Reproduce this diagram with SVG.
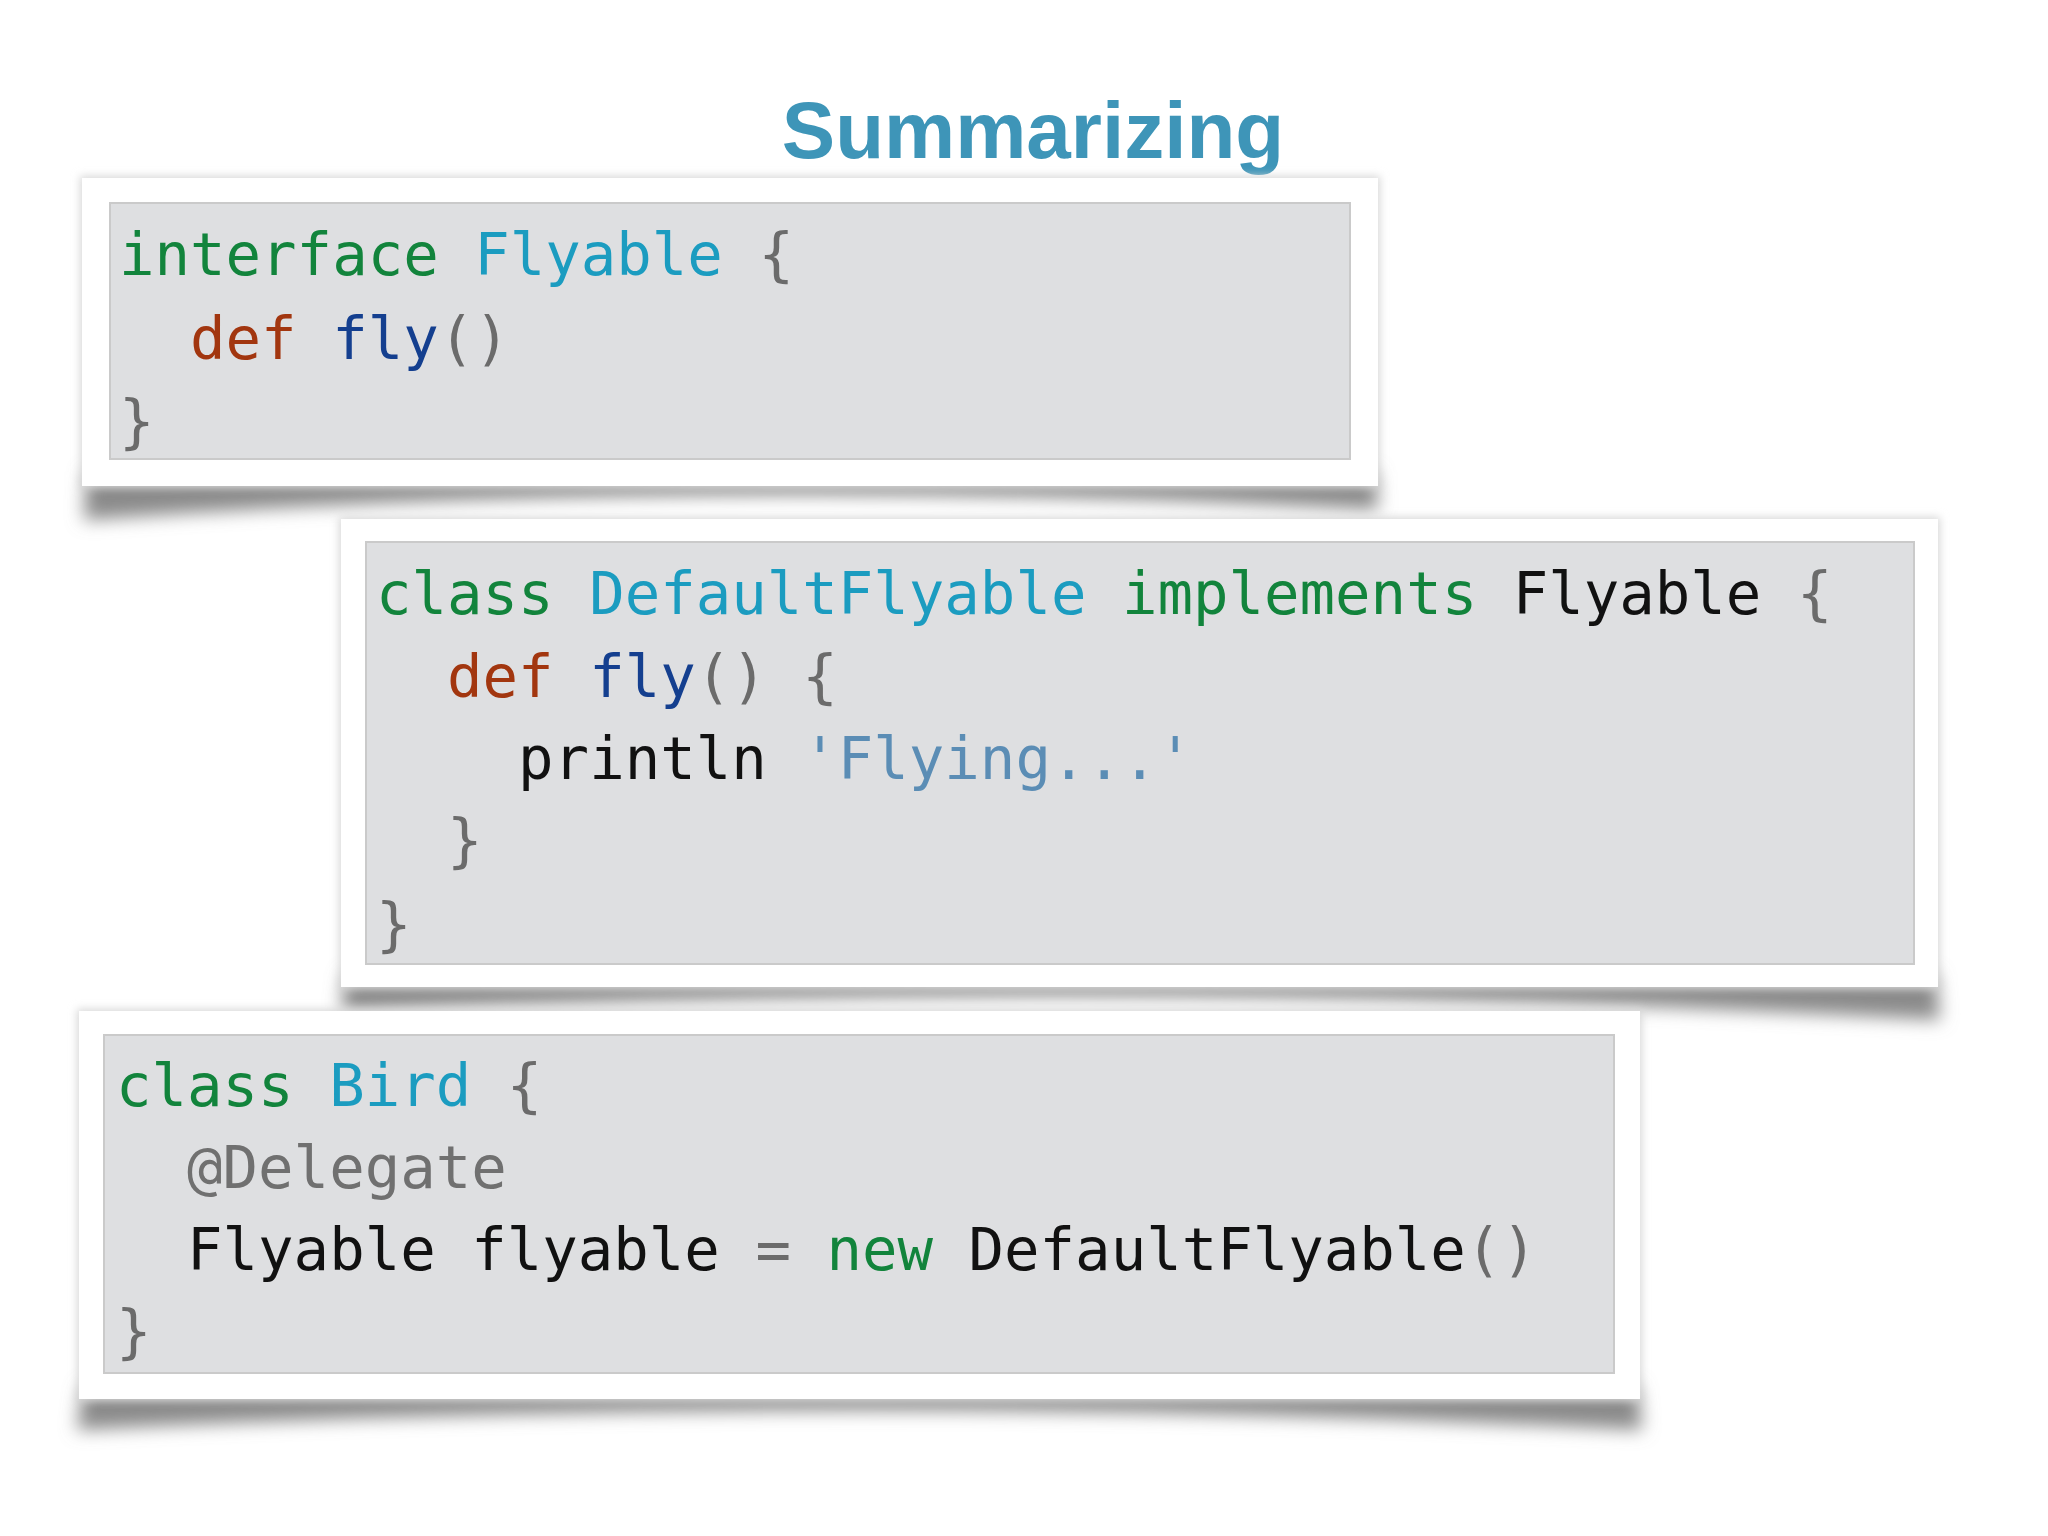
<svg xmlns="http://www.w3.org/2000/svg" width="2048" height="1536" viewBox="0 0 2048 1536">
<defs>
<filter id="blur" x="-10%" y="-80%" width="120%" height="260%"><feGaussianBlur stdDeviation="9"/></filter>
<filter id="soft" x="-5%" y="-5%" width="110%" height="110%"><feGaussianBlur stdDeviation="4"/></filter>
<style>
.card{fill:#fff}
.edge{fill:#d8d8d8;filter:url(#soft)}
.code{fill:#dedfe1;stroke:#cacaca;stroke-width:2}
.shadow{fill:#8a8a8a;filter:url(#blur)}
text.c{font-family:"DejaVu Sans Mono","Liberation Mono",monospace;font-size:59px;fill:#111}
text.c .kw{fill:#12843c}text.c .cls{fill:#1b9cc0}text.c .def{fill:#a2360f}text.c .fn{fill:#143f8f}text.c .br,text.c.br{fill:#6b6b6b}text.c .str{fill:#5b8db5}text.c.ann{fill:#707070}
</style>
</defs>
<rect width="2048" height="1536" fill="#fff"/>
<text x="1033" y="158" text-anchor="middle" font-family="Liberation Sans, Arial, sans-serif" font-weight="bold" font-size="80" fill="#3e95b8">Summarizing</text>

<g id="box1">
<path class="shadow" d="M86 472 L1376 472 L1378 510 Q730 474 84 520 Z"/>
<rect class="edge" x="80" y="176" width="1300" height="312"/>
<rect class="card" x="82" y="178" width="1296" height="308"/>
<rect class="code" x="110" y="203" width="1240" height="256"/>
<text class="c" x="119" y="275"><tspan class="kw">interface</tspan> <tspan class="cls">Flyable</tspan> <tspan class="br">{</tspan></text>
<text class="c" x="119" y="359" xml:space="preserve">  <tspan class="def">def</tspan> <tspan class="fn">fly</tspan><tspan class="br">()</tspan></text>
<text class="c br" x="119" y="442">}</text>
</g>

<g id="box2">
<path class="shadow" d="M345 974 L1936 974 L1940 1020 Q1140 976 341 1012 Z"/>
<rect class="edge" x="339" y="517" width="1601" height="472"/>
<rect class="card" x="341" y="519" width="1597" height="468"/>
<rect class="code" x="366" y="542" width="1548" height="422"/>
<text class="c" x="376" y="614"><tspan class="kw">class</tspan> <tspan class="cls">DefaultFlyable</tspan> <tspan class="kw">implements</tspan> Flyable <tspan class="br">{</tspan></text>
<text class="c" x="376" y="697" xml:space="preserve">  <tspan class="def">def</tspan> <tspan class="fn">fly</tspan><tspan class="br">() {</tspan></text>
<text class="c" x="376" y="779" xml:space="preserve">    println <tspan class="str">'Flying...'</tspan></text>
<text class="c br" x="376" y="861" xml:space="preserve">  }</text>
<text class="c br" x="376" y="945">}</text>
</g>

<g id="box3">
<path class="shadow" d="M83 1386 L1638 1386 L1642 1430 Q860 1390 77 1430 Z"/>
<rect class="edge" x="77" y="1009" width="1565" height="392"/>
<rect class="card" x="79" y="1011" width="1561" height="388"/>
<rect class="code" x="104" y="1035" width="1510" height="338"/>
<text class="c" x="116" y="1106"><tspan class="kw">class</tspan> <tspan class="cls">Bird</tspan> <tspan class="br">{</tspan></text>
<text class="c ann" x="116" y="1188" xml:space="preserve">  @Delegate</text>
<text class="c" x="116" y="1270" xml:space="preserve">  Flyable flyable <tspan class="br">=</tspan> <tspan class="kw">new</tspan> DefaultFlyable<tspan class="br">()</tspan></text>
<text class="c br" x="116" y="1352">}</text>
</g>
<g id="connectors"/>
</svg>
